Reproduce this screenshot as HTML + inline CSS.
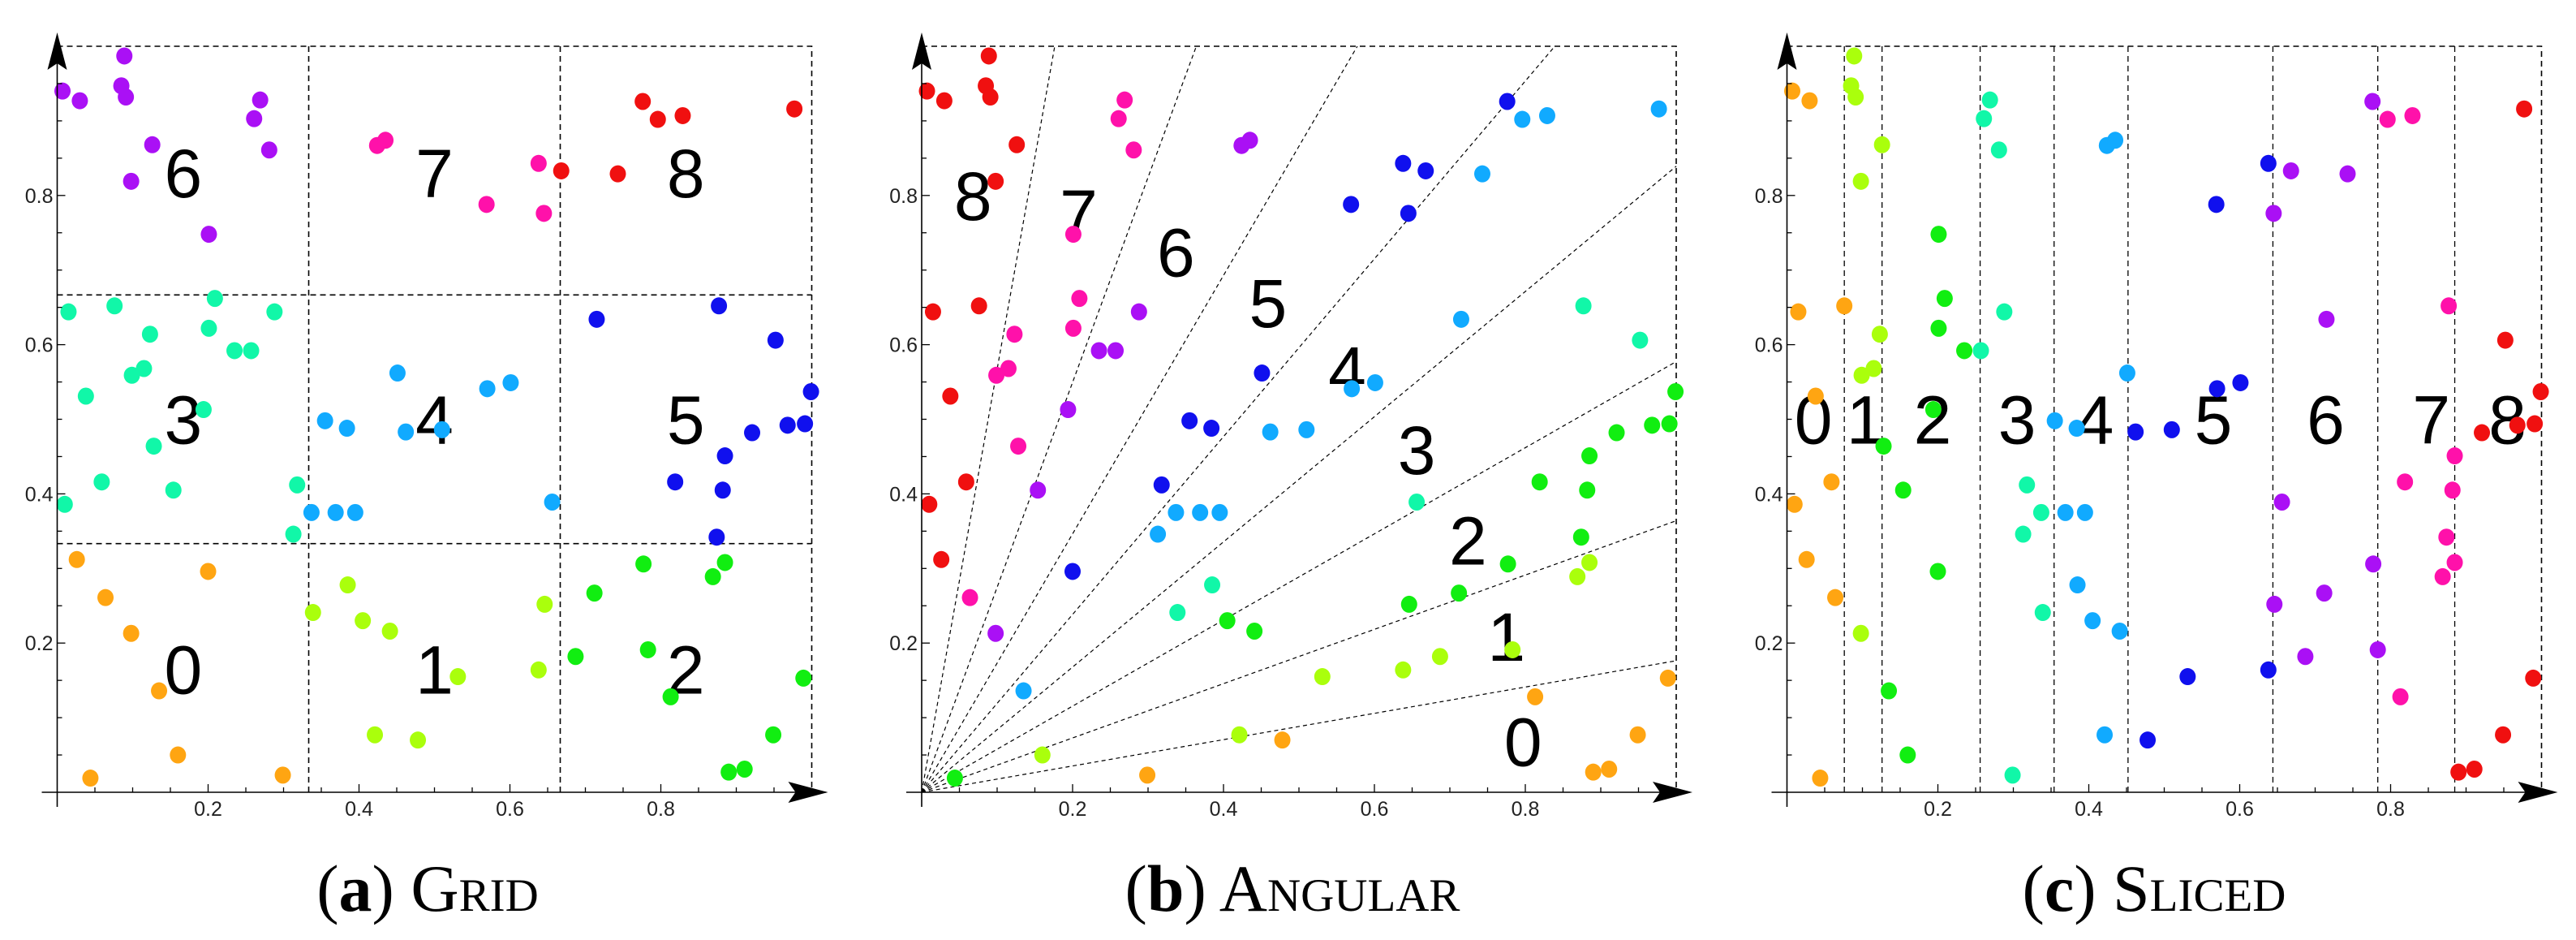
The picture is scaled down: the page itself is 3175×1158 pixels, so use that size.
<!DOCTYPE html>
<html><head><meta charset="utf-8">
<style>
html,body{margin:0;padding:0;background:#fff;}
svg{display:block;}
.tick{font-family:"Liberation Sans Narrow","Liberation Sans",sans-serif;font-size:25px;fill:#222;}
.lab{font-family:"Liberation Sans",sans-serif;font-size:84px;fill:#000;}
.cap{font-family:"Liberation Serif",serif;font-size:82px;fill:#000;font-variant:small-caps;}
</style></head>
<body>
<svg id="chart" width="3175" height="1158" viewBox="0 0 3175 1158" xmlns="http://www.w3.org/2000/svg"></svg>
<script>
const xs = [0.007,0.030,0.089,0.085,0.091,0.126,0.098,0.201,0.261,0.269,0.281,
0.424,0.435,0.569,0.638,0.645,
0.668,0.743,0.776,0.796,0.829,0.977,
0.015,0.076,0.209,0.288,0.123,0.201,0.235,0.257,0.099,0.115,0.038,0.194,0.128,0.059,0.154,0.010,0.318,0.313,
0.451,0.355,0.384,0.462,0.510,0.570,0.601,0.337,0.369,0.395,0.656,
0.715,0.877,0.952,0.999,0.921,0.968,0.991,0.885,0.819,0.882,0.874,
0.026,0.200,0.064,0.098,0.135,0.160,0.044,0.299,
0.385,0.339,0.405,0.441,0.646,0.531,0.638,0.421,0.478,
0.777,0.885,0.869,0.712,0.687,0.783,0.813,0.989,0.949,0.890,0.911];
const ys = [0.940,0.927,0.987,0.947,0.932,0.868,0.819,0.748,0.903,0.928,0.861,
0.867,0.874,0.788,0.843,0.776,
0.833,0.829,0.926,0.902,0.907,0.916,
0.644,0.652,0.662,0.644,0.614,0.622,0.592,0.592,0.559,0.568,0.531,0.513,0.464,0.416,0.405,0.386,0.412,0.346,
0.562,0.498,0.488,0.483,0.486,0.541,0.549,0.375,0.375,0.375,0.389,
0.634,0.652,0.606,0.537,0.482,0.492,0.494,0.451,0.416,0.405,0.342,
0.312,0.296,0.261,0.213,0.136,0.050,0.019,0.023,
0.278,0.241,0.230,0.216,0.252,0.155,0.164,0.077,0.070,
0.306,0.308,0.289,0.267,0.182,0.191,0.128,0.153,0.077,0.027,0.031];
const sliceBounds = [0.076,0.126,0.256,0.354,0.452,0.644,0.783,0.885];
const angleBoundsDeg = [10,20,30,40,50,60,70,80];
const ticks = [0.2,0.4,0.6,0.8];
const tickLabels = ["0.2","0.4","0.6","0.8"];
const gridLabelsX = [0.167,0.5,0.833];
const gridLabelsY = [0.165,0.5,0.83];
const angLabelX = [0.797,0.775,0.724,0.656,0.564,0.459,0.337,0.208,0.068];
const angLabelY = [0.068,0.209,0.338,0.459,0.566,0.656,0.724,0.776,0.80];
const sliceLabelX = [0.035,0.104,0.193,0.305,0.408,0.565,0.714,0.854,0.955];
const palette = ["#ffa512","#aaff0c","#11ee11","#11f7a8","#11aaff","#1010ee","#aa10f5","#ff11aa","#f01010"];

const NS="http://www.w3.org/2000/svg";
const svg=document.getElementById('chart');
function mk(tag,attrs,parent){const e=document.createElementNS(NS,tag);for(const k in attrs)e.setAttribute(k,attrs[k]);(parent||svg).appendChild(e);return e;}

const panels=[{ox:70.5,cx:527,key:'a',name:'Grid'},{ox:1136,cx:1593,key:'b',name:'Angular'},{ox:2202.5,cx:2655,key:'c',name:'Sliced'}];
const OY=976,W=930,H=919;

panels.forEach((p,pi)=>{
  const g=mk('g',{});
  
  
  const X=v=>p.ox+v*W, Y=v=>OY-v*H;
  const dash={stroke:'#000','stroke-width':1.6,'stroke-dasharray':'7 5',fill:'none'};
  let b=mk('path',Object.assign({d:`M${X(0)} ${Y(1)} H${X(1)} V${Y(0)}`},dash),g);
  
  
  if(pi===0){
    [1/3,2/3].forEach(v=>{
      let l=mk('line',Object.assign({x1:X(v),y1:Y(0),x2:X(v),y2:Y(1)},dash),g);
      
      
      let l2=mk('line',Object.assign({x1:X(0),y1:Y(v),x2:X(1),y2:Y(v)},dash),g);
      
      
    });
  } else if(pi===1){
    angleBoundsDeg.forEach(a=>{
      const t=Math.tan(a*Math.PI/180);
      let ex,ey; if(t<=1){ex=1;ey=t;}else{ex=1/t;ey=1;}
      let l=mk('line',Object.assign({x1:X(0),y1:Y(0),x2:X(ex),y2:Y(ey)},dash,{'stroke-width':1.2,'stroke-dasharray':'5 4'}),g);
      
      
    });
  } else {
    sliceBounds.forEach(v=>{
      let l=mk('line',Object.assign({x1:X(v),y1:Y(0),x2:X(v),y2:Y(1)},dash,{'stroke-width':1.3}),g);
      
      
    });
  }
  for(let k=0;k<9;k++){
    let lx,ly;
    if(pi===0){lx=gridLabelsX[k%3];ly=gridLabelsY[Math.floor(k/3)];}
    else if(pi===1){lx=angLabelX[k];ly=angLabelY[k];}
    else {lx=sliceLabelX[k];ly=0.5;}
    let t=mk('text',{x:X(lx),y:Y(ly)+30,'text-anchor':'middle',class:'lab'},g);
    t.textContent=String(k);
    
    
  }
  xs.forEach((x,i)=>{
    const y=ys[i]; let r;
    if(pi===0){r=Math.min(2,Math.floor(x*3))+3*Math.min(2,Math.floor(y*3));}
    else if(pi===1){const a=Math.atan2(y,x)*180/Math.PI;r=0;angleBoundsDeg.forEach(bd=>{if(a>bd)r++;});}
    else {r=0;sliceBounds.forEach(bd=>{if(x>bd)r++;});}
    let c=mk('ellipse',{cx:X(x),cy:Y(y),rx:10,ry:10.5,fill:palette[r]},g);
    
    
  });
  let ax=mk('line',{x1:X(0)-19,y1:OY,x2:X(1)+5,y2:OY,stroke:'#000','stroke-width':1.6},g);
  
  
  let ay=mk('line',{x1:X(0),y1:OY+18,x2:X(0),y2:46,stroke:'#000','stroke-width':1.6},g);
  
  
  let axh=mk('path',{d:`M${X(1)+20} ${OY} L${X(1)-29} ${OY-13} L${X(1)-20} ${OY} L${X(1)-29} ${OY+13}Z`,fill:'#000'},g);
  
  
  let ayh=mk('path',{d:`M${X(0)} 40 L${X(0)-12} 86 L${X(0)} 78 L${X(0)+12} 86Z`,fill:'#000'},g);
  
  
  for(let k=1;k<20;k++){
    const v=k*0.05, major=(k%4===0), len=major?10:6;
    let tx=mk('line',{x1:X(v),y1:OY,x2:X(v),y2:OY-len,stroke:'#000','stroke-width':1.3},g);
    
    
    let ty=mk('line',{x1:X(0),y1:Y(v),x2:X(0)+len,y2:Y(v),stroke:'#000','stroke-width':1.3},g);
    
    
  }
  ticks.forEach((v,i)=>{
    let t=mk('text',{x:X(v),y:OY+29,'text-anchor':'middle',class:'tick'},g);
    t.textContent=tickLabels[i];
    
    
    let t2=mk('text',{x:X(0)-5,y:Y(v)+9,'text-anchor':'end',class:'tick'},g);
    t2.textContent=tickLabels[i];
    
    
  });
  let cap=mk('text',{x:p.cx,y:1122,'text-anchor':'middle',class:'cap'},g);
  cap.innerHTML='(<tspan font-weight="bold" style="font-variant:normal">'+p.key+'</tspan>) '+p.name;
  
  
});
</script>
</body></html>
